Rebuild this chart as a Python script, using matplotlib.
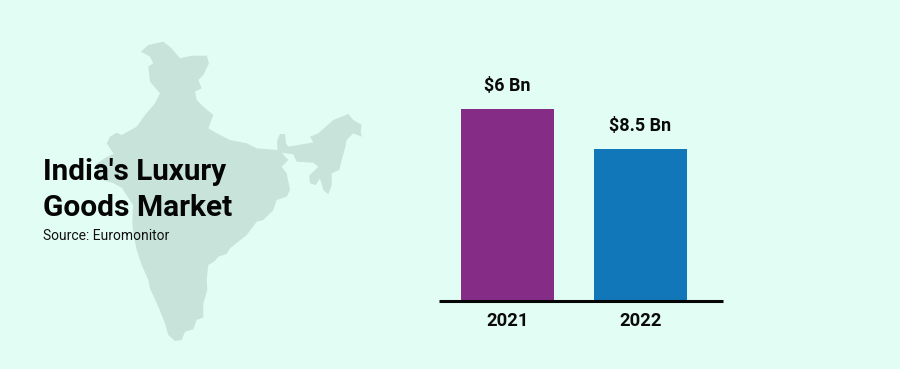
import matplotlib
matplotlib.use("Agg")
import matplotlib.pyplot as plt
from matplotlib.patches import Polygon

plt.rcParams['font.family'] = ['Roboto', 'DejaVu Sans']

years = ["2021", "2022"]
bar_heights = [6.0, 4.75]
bar_labels = ["$6 Bn", "$8.5 Bn"]
bar_colors = ["#852C87", "#1277B9"]

title_lines = ["India's Luxury", "Goods Market"]
source_text = "Source: Euromonitor"

# India silhouette outline, traced in reference pixels
map_north = [(141,51.7),(148.3,45),(163.3,41.7),(171.7,48.3),(180,58.3),(191.7,55.7),(206.7,55.7),(209,63.3),
             (203.3,75),(198.3,80),(201.7,88.3),(195,91.7),(196.7,100),(203.3,106.7),(213.3,115),(208.3,128.3),
             (216.7,133.3),(230,140),(246.7,143.3),(256.7,148.3),(277.3,150)]
map_northeast = [(277.3,140),(280,134),(285,134),(286,143.3),(288.3,146.7),(298.3,145),(313.3,142.3),(310,136.7),
                 (318.3,133.3),(333.3,120),(348.3,114),(353.3,120),(361.7,125),(360.7,131.7),(361.7,136.7),
                 (353.3,133.3),(346.7,140),(345,148.3),(341.7,160),(339.3,170),(331.7,173.3),(331.7,185),
                 (328.3,194.3),(323.3,190),(320,178.3),(315.7,185),(310,183.3),(309.3,175.7),(318.3,166.7),
                 (313.3,162.7),(296.7,161.7),(293.3,154.3),(281.7,152.7),(288.3,160),(281.7,166.7),(286.7,173.3),
                 (290,190)]
map_south = [(286.7,196.7),(276.7,200),(273.3,210),(263.3,220),(256.7,221.7),(246.7,235),(230,248.3),(226.7,254),
             (218.3,256.7),(215,261),(208.3,265),(206.7,280),(207.3,290),(203.3,303.3),(203.3,317.3),(196.7,320),
             (193.3,329.3),(185,331.7),(181.7,340),(175,341),(168.3,335),(165,323.3),(158.3,306.7),(150,288.3),
             (148.3,280),(141.7,265),(136.7,250),(133.3,233.3),(132.3,223),(133,205),(122,188),(113,183)]
map_west = [(101.7,180),(95,165),(105,158),(115,153),(113.3,153.3),(106.7,143.3),(110,136.7),(116.7,132.7),
            (121.7,135),(136.7,126.7),(145,115),(155,103.3),(160,93.3),(150,81.7),(148.3,66.7),(153.3,63.3),(150,56.7)]
map_outline = map_north + map_northeast + map_south + map_west

W, H = 900, 369
fig = plt.figure(figsize=(W / 100, H / 100), dpi=100, facecolor="#E2FDF4")

bg = fig.add_axes([0, 0, 1, 1])
bg.set_xlim(0, W)
bg.set_ylim(H, 0)
bg.axis("off")
bg.add_patch(Polygon(map_outline, closed=True, facecolor="#C8E4DA", edgecolor="none"))

bg.text(43, 172, title_lines[0], fontsize=21.3, fontweight="bold", color="#050505", va="center", ha="left")
bg.text(43, 208, title_lines[1], fontsize=21.5, fontweight="bold", color="#050505", va="center", ha="left")
bg.text(43, 236.5, source_text, fontsize=10, color="#111111", va="center", ha="left")

top_px = 60
ax = fig.add_axes([439 / W, (H - 301) / H, (723 - 439) / W, (301 - top_px) / H])
ax.patch.set_alpha(0)
x = list(range(len(years)))
bars = ax.bar(x, bar_heights, width=0.7, color=bar_colors)
ax.set_xlim(-68.5 / 133, (723 - 507.5) / 133)
ax.set_ylim(0, (301 - top_px) / 32)
ax.set_xticks(x, years, fontsize=13.2, fontweight="bold", color="#0A0A0A")
ax.tick_params(axis="x", length=0, pad=8)
ax.set_yticks([])
for s in ("top", "left", "right"):
    ax.spines[s].set_visible(False)
ax.spines["bottom"].set_linewidth(2.2)
ax.spines["bottom"].set_color("#050505")
ax.spines["bottom"].set_capstyle("butt")
for b, lab in zip(bars, bar_labels):
    ax.annotate(lab, (b.get_x() + b.get_width() / 2, b.get_height()), xytext=(0, 16.8),
                textcoords="offset points", ha="center", va="center",
                fontsize=12.9, fontweight="bold", color="#0A0A0A")

fig.savefig("out.png", dpi=100, facecolor=fig.get_facecolor())
